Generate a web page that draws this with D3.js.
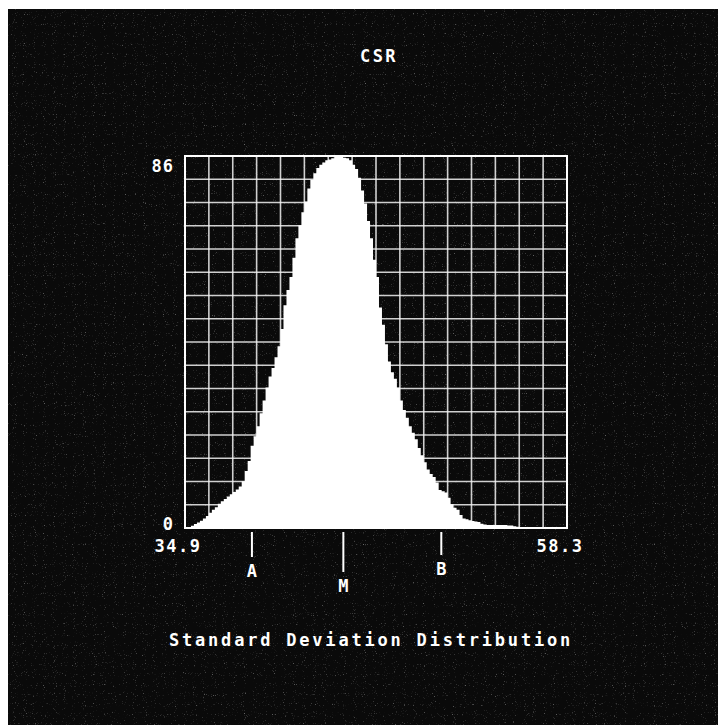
<!DOCTYPE html>
<html>
<head>
<meta charset="utf-8">
<script src="https://cdn.jsdelivr.net/npm/d3@7"></script>
<style>
  html, body { margin: 0; padding: 0; background: #fff; }
  svg { display: block; }
  text { font-family: "DejaVu Sans Mono", monospace; font-weight: bold; fill: #fff; }
</style>
</head>
<body>
<div id="chart-container"></div>
<script>
// Range of the histogram (x) and its peak count (y)
const xMin = 34.9;
const xMax = 58.3;
const yMax = 86;

// Counts per bin (128 bins from 34.9 to 58.3)
const counts = [
  0, 0.2, 0.5, 0.9, 1.3, 1.7, 2.2, 2.8, 3.5, 4.2,
  4.8, 5.6, 6.2, 6.7, 7.3, 7.8, 8.3, 8.9, 9.6, 10.8,
  13.2, 15.5, 19, 21.2, 23.5, 26.5, 29.5, 32.5, 35, 37,
  39.5, 42, 46, 51.5, 55, 58, 62.5, 67, 70, 73,
  75.5, 78.5, 80.5, 82, 83.2, 84, 84.5, 85, 85.2, 85.5,
  86, 86, 86, 85.6, 85.5, 85, 84, 83, 81, 78,
  75, 71, 67, 62, 58, 51, 47, 42.5, 38.5, 36,
  34.5, 32.5, 29.5, 27.3, 25.5, 23.5, 22, 20.5, 18.5, 16.8,
  15.2, 13.5, 12.5, 11.8, 10.5, 8.8, 8.5, 8.2, 7, 5.5,
  4.7, 4.2, 3, 2.2, 2, 1.8, 1.6, 1.5, 1.4, 1.0,
  0.8, 0.7, 0.7, 0.7, 0.7, 0.7, 0.7, 0.7, 0.6, 0.6,
  0.4, 0.3, 0.2, 0.1, 0.1, 0.1, 0.1, 0.1, 0.1, 0.1,
  0.1, 0.1, 0.1, 0.1, 0.1, 0.1, 0.1, 0
];

// Markers under the axis
const markerNames = ["A", "M", "B"];
const markerValues = [39.0, 44.6, 50.6];

// Axis labels
const yLabels = ["0", "86"];
const xLabels = ["34.9", "58.3"];

const title = "CSR";
const subtitle = "Standard Deviation Distribution";

const gridDivisions = 16;

function createChart() {
  const width = 718;
  const height = 725;
  const margin = { top: 156, left: 185 };
  const plotW = 382;
  const plotH = 372;

  const x = d3.scaleLinear().domain([xMin, xMax]).range([margin.left, margin.left + plotW]);
  const y = d3.scaleLinear().domain([0, yMax]).range([margin.top + plotH, margin.top]);

  const svg = d3.create("svg")
      .attr("width", width)
      .attr("height", height)
      .attr("viewBox", `0 0 ${width} ${height}`);

  // speckled screen grain
  const defs = svg.append("defs");
  const grain = defs.append("filter")
      .attr("id", "grain")
      .attr("x", 0).attr("y", 0).attr("width", "100%").attr("height", "100%");
  grain.append("feTurbulence")
      .attr("type", "fractalNoise")
      .attr("baseFrequency", 0.9)
      .attr("numOctaves", 1)
      .attr("seed", 7);
  grain.append("feColorMatrix")
      .attr("type", "matrix")
      .attr("values", "0 0 0 0 1  0 0 0 0 1  0 0 0 0 1  4 0 0 0 -2.55");

  // screen background (white strip on top / left like the photo)
  svg.append("rect")
      .attr("x", 8).attr("y", 9)
      .attr("width", width - 8).attr("height", height - 9)
      .attr("fill", "#0a0a0a");
  svg.append("rect")
      .attr("x", 8).attr("y", 9)
      .attr("width", width - 8).attr("height", height - 9)
      .attr("fill", "#fff")
      .attr("filter", "url(#grain)")
      .attr("opacity", 0.45);

  // grid
  const xStep = (xMax - xMin) / gridDivisions;
  const yStep = yMax / gridDivisions;
  const xGrid = d3.range(gridDivisions + 1).map(i => xMin + i * xStep);
  const yGrid = d3.range(gridDivisions + 1).map(i => i * yStep);

  const grid = svg.append("g")
      .attr("stroke", "#f2f2f2")
      .attr("stroke-width", 1.6)
      .attr("stroke-opacity", 0.85);
  grid.selectAll(".vx")
    .data(xGrid)
    .join("line")
      .attr("x1", d => x(d)).attr("x2", d => x(d))
      .attr("y1", y(0)).attr("y2", y(yMax));
  grid.selectAll(".hy")
    .data(yGrid)
    .join("line")
      .attr("x1", x(xMin)).attr("x2", x(xMax))
      .attr("y1", d => y(d)).attr("y2", d => y(d));

  // histogram as a stepped area
  const binW = (xMax - xMin) / counts.length;
  const pts = counts.map((c, i) => [xMin + i * binW, c]);
  pts.push([xMax, counts[counts.length - 1]]);

  const area = d3.area()
      .curve(d3.curveStepAfter)
      .x(d => x(d[0]))
      .y0(y(0))
      .y1(d => y(d[1]));

  svg.append("path")
      .datum(pts)
      .attr("fill", "#fff")
      .attr("d", area);

  // frame
  svg.append("rect")
      .attr("x", x(xMin)).attr("y", y(yMax))
      .attr("width", x(xMax) - x(xMin))
      .attr("height", y(0) - y(yMax))
      .attr("fill", "none")
      .attr("stroke", "#fff")
      .attr("stroke-width", 2);

  const fontSize = 17;

  // y labels
  svg.append("g")
    .selectAll("text")
    .data(yLabels)
    .join("text")
      .attr("x", x(xMin) - 11)
      .attr("y", d => y(+d) + (+d === 0 ? -3 : 11))
      .attr("text-anchor", "end")
      .attr("dominant-baseline", "middle")
      .attr("font-size", fontSize)
      .attr("letter-spacing", 1)
      .text(d => d);

  // x labels
  svg.append("g")
    .selectAll("text")
    .data(xLabels)
    .join("text")
      .attr("x", d => x(+d) - 7)
      .attr("y", y(0) + 19)
      .attr("text-anchor", "middle")
      .attr("dominant-baseline", "middle")
      .attr("font-size", fontSize)
      .attr("letter-spacing", 1.5)
      .text(d => d);

  // markers
  const markerLen = { A: 25, M: 40, B: 23 };
  const markers = svg.append("g")
    .selectAll("g")
    .data(markerNames.map((n, i) => ({ name: n, value: markerValues[i] })))
    .join("g");
  markers.append("line")
      .attr("x1", d => x(d.value)).attr("x2", d => x(d.value))
      .attr("y1", y(0) + 4)
      .attr("y2", d => y(0) + 4 + markerLen[d.name])
      .attr("stroke", "#fff")
      .attr("stroke-width", 2);
  markers.append("text")
      .attr("x", d => x(d.value))
      .attr("y", d => y(0) + 4 + markerLen[d.name] + 15)
      .attr("text-anchor", "middle")
      .attr("dominant-baseline", "middle")
      .attr("font-size", fontSize)
      .text(d => d.name);

  // titles
  svg.append("text")
      .attr("x", 379)
      .attr("y", 57)
      .attr("text-anchor", "middle")
      .attr("dominant-baseline", "middle")
      .attr("font-size", fontSize)
      .attr("letter-spacing", 2.5)
      .text(title);

  svg.append("text")
      .attr("x", 371)
      .attr("y", 641)
      .attr("text-anchor", "middle")
      .attr("dominant-baseline", "middle")
      .attr("font-size", fontSize)
      .attr("letter-spacing", 2.8)
      .text(subtitle);

  return svg.node();
}

document.getElementById("chart-container").appendChild(createChart());
</script>
</body>
</html>
